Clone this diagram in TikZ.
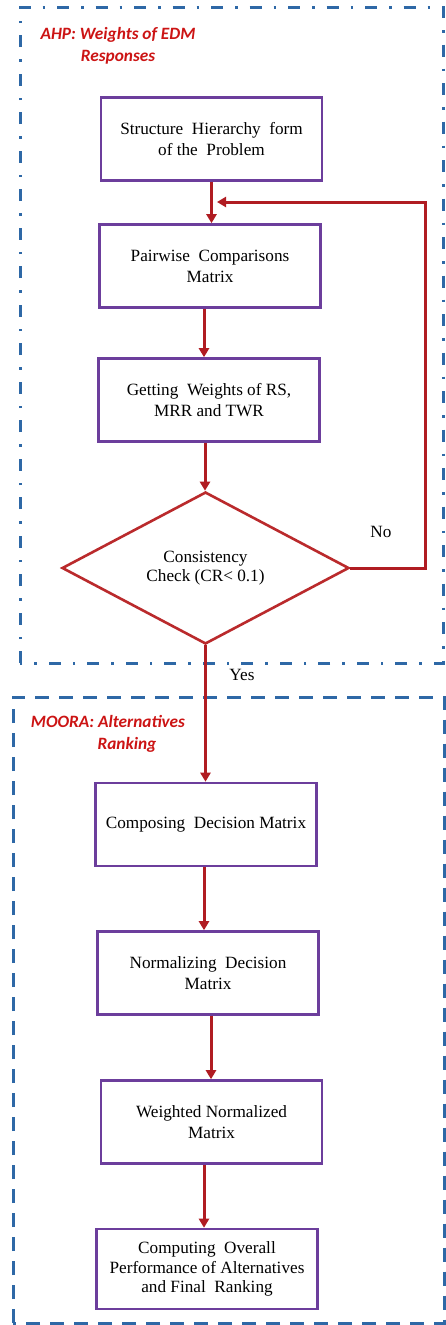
\documentclass[tikz,border=0pt]{standalone}
\usepackage{fontspec}
\setmainfont{Liberation Serif}
\newfontfamily\titlefont{Carlito}
\usetikzlibrary{shapes.geometric,arrows.meta,calc}
\definecolor{framblue}{RGB}{46,104,166}
\definecolor{boxpurple}{RGB}{108,62,156}
\definecolor{arrred}{RGB}{176,28,34}
\definecolor{diared}{RGB}{186,42,44}
\definecolor{titred}{RGB}{204,20,20}
\begin{document}
\begin{tikzpicture}[x=1pt,y=-1pt,
  stepbox/.style={draw=boxpurple, line width=2.6pt, minimum width=221pt, minimum height=83pt, align=center, inner sep=0pt, font=\fontsize{17.2}{21}\selectfont},
  decision/.style={draw=diared, line width=2.6pt, diamond, aspect=1.9, inner sep=0pt, minimum width=287pt, minimum height=152pt, align=center, font=\fontsize{17.2}{19.5}\selectfont},
  arr/.style={draw=arrred, line width=3pt, -{Triangle[length=9pt,width=10pt]}},
  frameA/.style={draw=framblue, line width=3pt, dash pattern=on 12pt off 12pt on 2.5pt off 12pt},
  frameB/.style={draw=framblue, line width=3pt, dash pattern=on 14pt off 10pt},
  ttl/.style={text=titred, align=center, font=\titlefont\bfseries\itshape\fontsize{17.3}{22}\selectfont},
  lbl/.style={font=\fontsize{17.2}{20}\selectfont}]
\useasboundingbox (0,0) rectangle (446,1325);
\fill[white] (0,0) rectangle (446,1325);
% frames
\draw[frameA] (20,663) -- (20,7) -- (443,7) -- (443,663) -- cycle;
\draw[frameB] (13,1323) -- (13,697) -- (444.5,697) -- (444.5,1323) -- cycle;
% titles
\node[ttl] (t1) at (118,46) {AHP: Weights of EDM\\Responses};
\node[ttl, align=left] (t2) at (108,734) {MOORA: Alternatives\\\hspace*{3.85em}Ranking};
% boxes
\node[stepbox] (b1) at (211.5,139) {Structure\ \ Hierarchy\ \ form\\of the\ \ Problem};
\node[stepbox] (b2) at (210,266) {Pairwise\ \ Comparisons\\Matrix};
\node[stepbox] (b3) at (209,400) {Getting\ \ Weights of RS,\\MRR and TWR};
\node[decision] (dia) at (205.5,568) {Consistency\\Check (CR{<} 0.1)};
\node[stepbox] (b4) at (206,824.5) {Composing\ \ Decision Matrix};
\node[stepbox] (b5) at (208,973) {Normalizing\ \ Decision\\Matrix};
\node[stepbox] (b6) at (211.5,1122) {Weighted Normalized\\Matrix};
\node[stepbox, minimum height=80pt, font=\fontsize{17.2}{19.8}\selectfont] (b7) at (207,1269) {Computing\ \ Overall\\Performance of Alternatives\\and Final\ \ Ranking};
% labels
\node[lbl] (no) at (381,532) {No};
\node[lbl] (yes) at (242,675) {Yes};
% connectors
\coordinate (fbend) at (217,202);
\draw[arr] (b1.south) -- (b1.south |- b2.north);
\draw[arr] (dia.east) -| (425,202) -- (fbend);
\draw[arr] ([xshift=-6pt]b2.south) -- ([xshift=-6pt]b2.south |- b3.north);
\draw[arr] ([xshift=-4pt]b3.south) -- ([xshift=-4pt]b3.south |- dia.north);
\draw[arr] (dia.south) -- (dia.south |- b4.north);
\draw[arr] ([xshift=-2pt]b4.south) -- ([xshift=-2pt]b4.south |- b5.north);
\draw[arr] ([xshift=3pt]b5.south) -- ([xshift=3pt]b5.south |- b6.north);
\draw[arr] ([xshift=-7.5pt]b6.south) -- ([xshift=-7.5pt]b6.south |- b7.north);
\end{tikzpicture}
\end{document}
